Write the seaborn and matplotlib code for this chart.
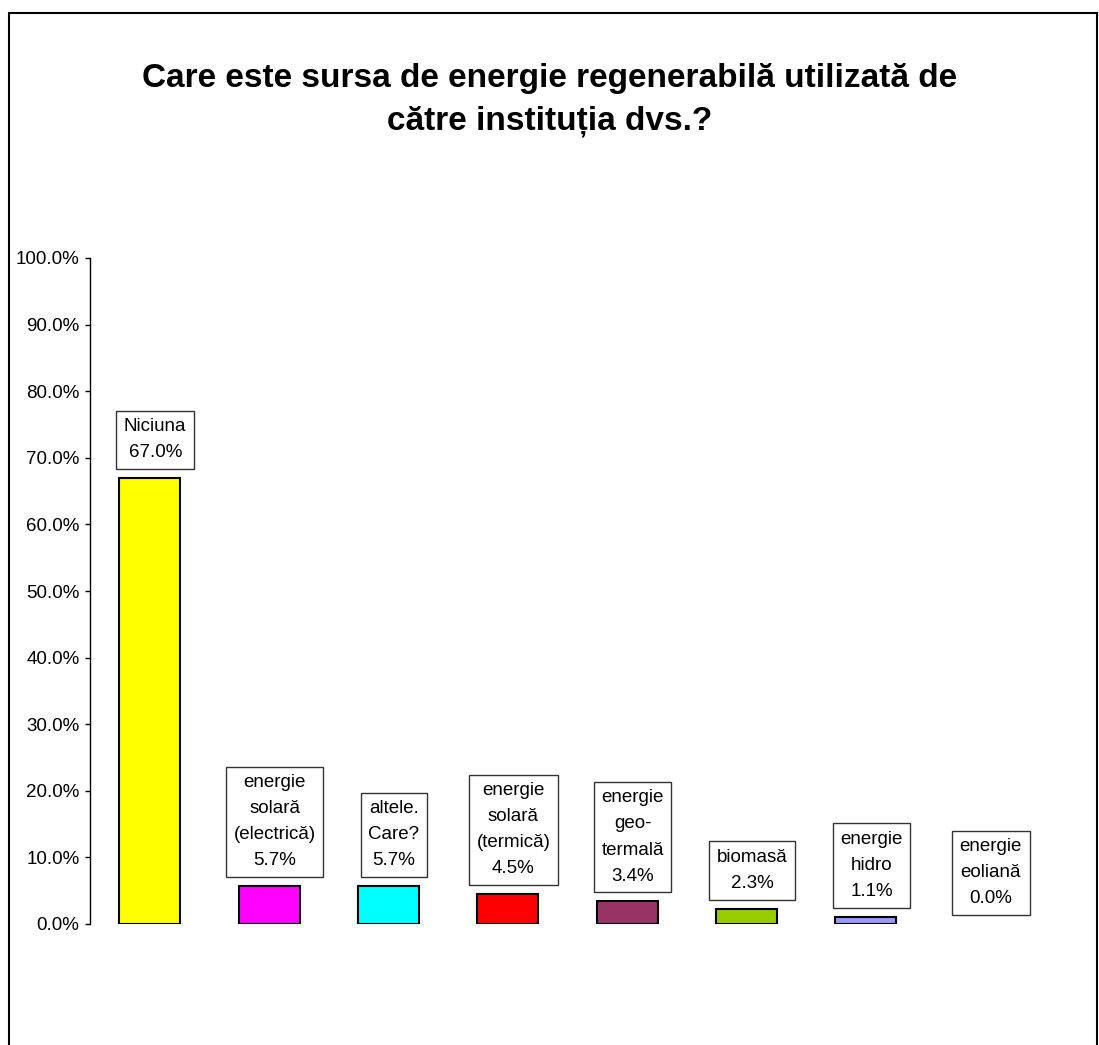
import matplotlib
matplotlib.use("Agg")
import matplotlib.pyplot as plt
import seaborn as sns
import pandas as pd
from matplotlib.patches import Rectangle
from matplotlib.ticker import FuncFormatter

categories = ["Niciuna", "energie\nsolară\n(electrică)", "altele.\nCare?", "energie\nsolară\n(termică)",
              "energie\ngeo-\ntermală", "biomasă", "energie\nhidro", "energie\neoliană"]
values = [67.0, 5.7, 5.7, 4.5, 3.4, 2.3, 1.1, 0.0]
colors = ["#FFFF00", "#FF00FF", "#00FFFF", "#FF0000", "#993366", "#99CC00", "#9999FF", "#FFFFFF"]
title = "Care este sursa de energie regenerabilă utilizată de\ncătre instituția dvs.?"

sns.set_style("white")
plt.rcParams['font.family'] = ['Liberation Sans', 'DejaVu Sans']
plt.rcParams['text.color'] = 'black'
plt.rcParams['ytick.color'] = 'black'
plt.rcParams['ytick.labelcolor'] = 'black'

df = pd.DataFrame({"cat": categories, "val": values})

fig = plt.figure(figsize=(10.99, 10.45), dpi=100)
ax = fig.add_axes([90/1099, 121/1045, (1045-90)/1099, (787-121)/1045])

sns.barplot(data=df, x="cat", y="val", hue="cat", palette=colors, legend=False,
            width=0.51, edgecolor="black", linewidth=1.5, ax=ax, saturation=1)
for p in ax.patches:
    if p.get_height() == 0:
        p.set_linewidth(0)

ax.set_ylim(0, 100)
ax.set_xlim(-0.5, len(categories) - 0.5)
ax.set_yticks(range(0, 101, 10))
ax.yaxis.set_major_formatter(FuncFormatter(lambda v, p: f"{v:.1f}%"))
ax.tick_params(axis="y", which="both", left=True, length=3.5, width=1, color="black",
               labelsize=13.5, pad=4, labelcolor="black")
ax.set_xticks([])
ax.set_xlabel("")
ax.set_ylabel("")
for s in ["top", "right", "bottom"]:
    ax.spines[s].set_visible(False)
ax.spines["left"].set_color("black")
ax.spines["left"].set_linewidth(1)

for i, (c, v) in enumerate(zip(categories, values)):
    ax.annotate(f"{c}\n{v:.1f}%", xy=(i, v), xytext=(4, 12), textcoords="offset points",
                ha="center", va="bottom", fontsize=13.5, linespacing=1.7, color="black",
                bbox=dict(boxstyle="square,pad=0.4", facecolor="white", edgecolor="#333333", linewidth=1))

fig.text(0.5, 1 - 100/1045, title, ha="center", va="center", fontsize=24,
         fontweight="bold", linespacing=1.5, color="black")

fig.patches.append(Rectangle((9/1099, -0.05), (1097-9)/1099, 1 - 13/1045 + 0.05,
                             transform=fig.transFigure, fill=False, edgecolor="black",
                             linewidth=1.5, zorder=10))

fig.savefig("out.png", dpi=100)
